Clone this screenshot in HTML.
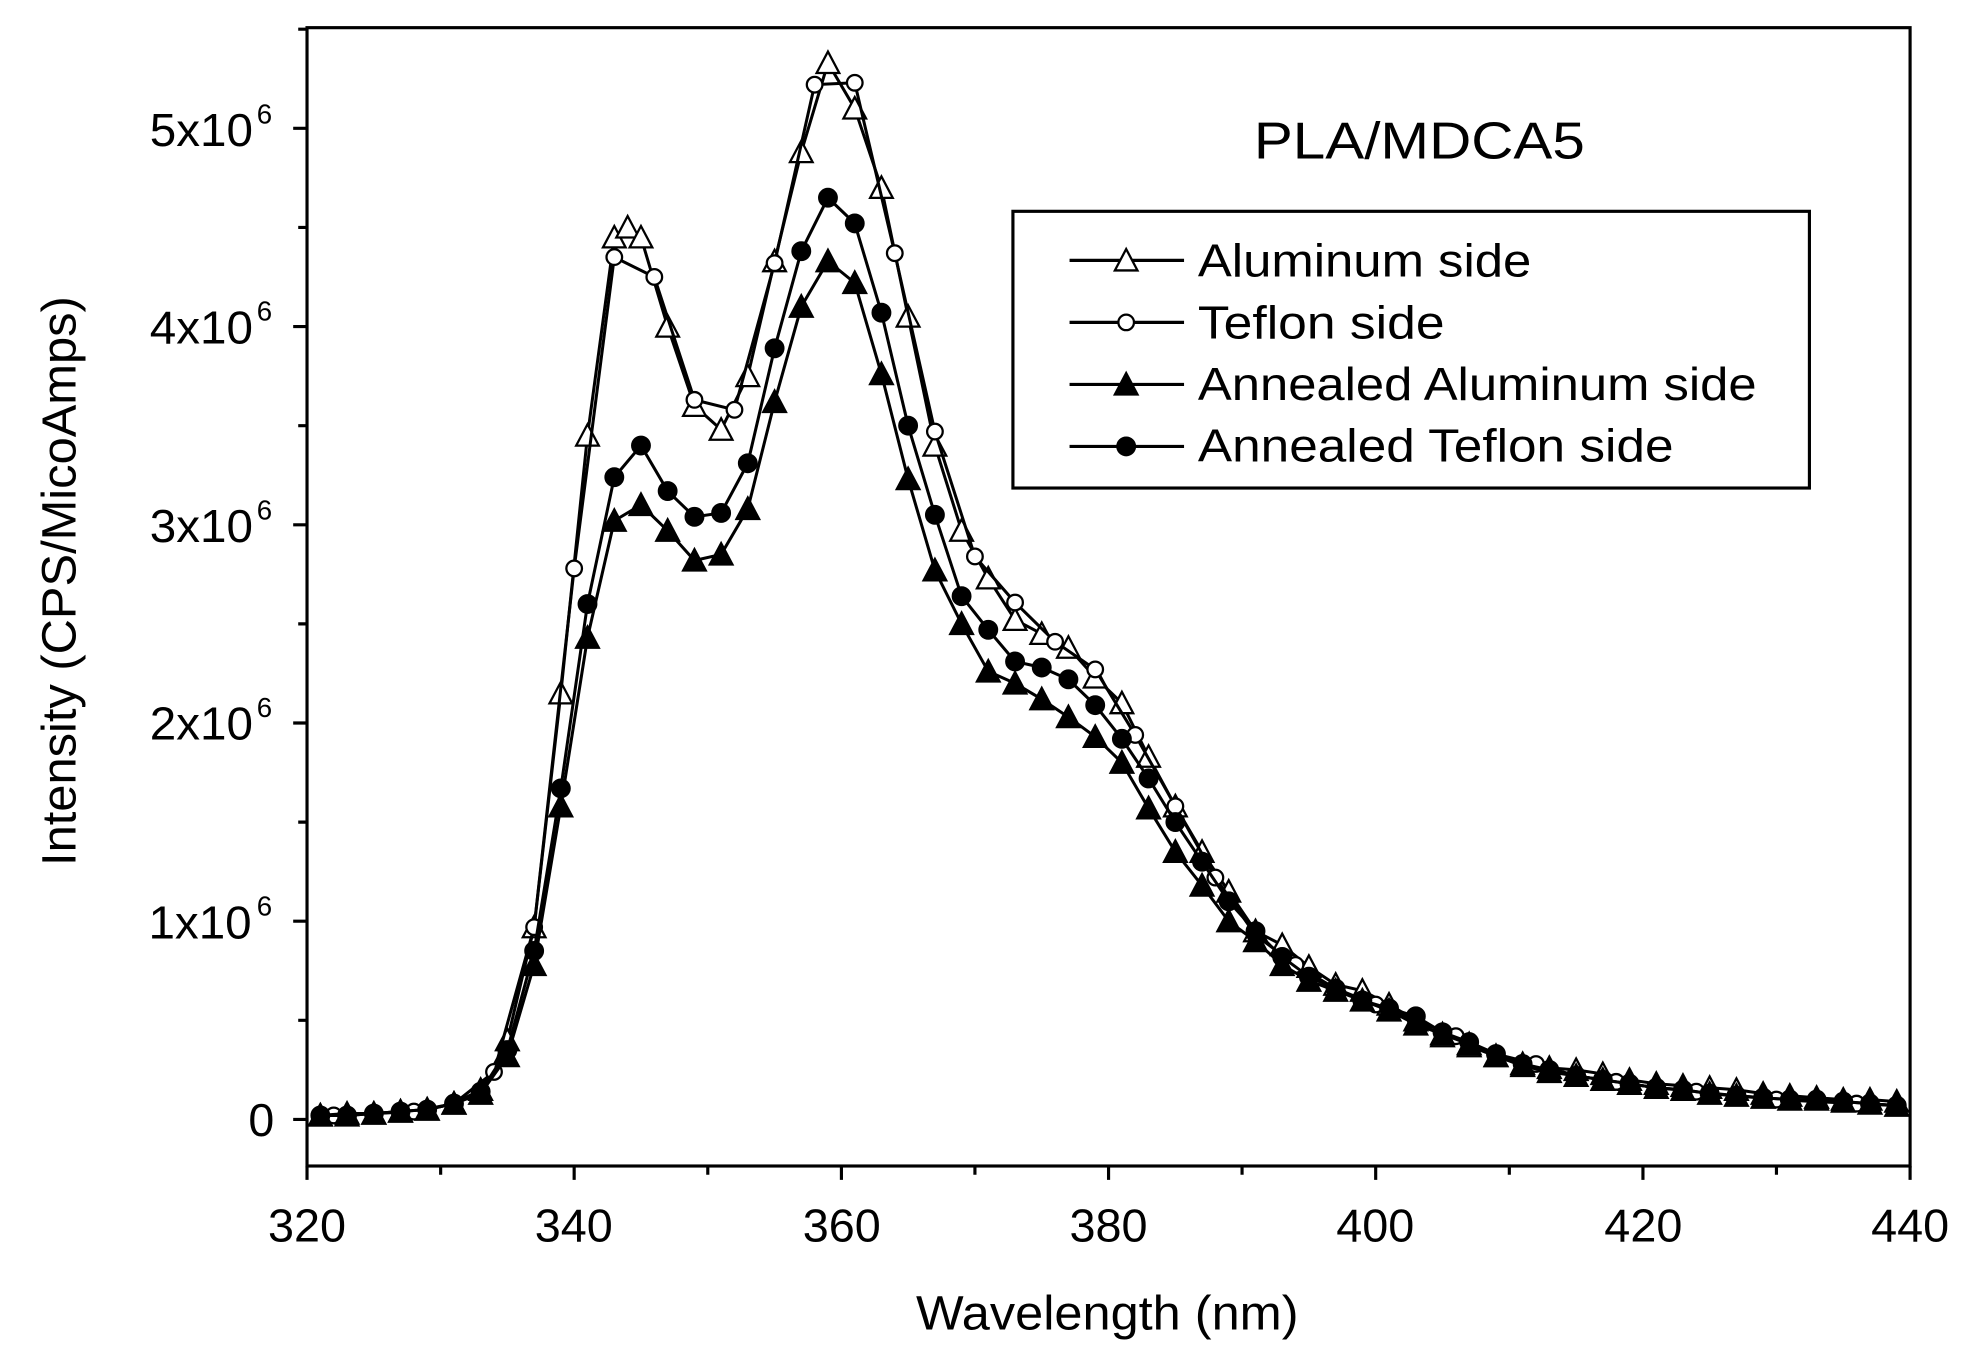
<!DOCTYPE html>
<html><head><meta charset="utf-8"><style>
html,body{margin:0;padding:0;background:#fff;width:1973px;height:1366px;overflow:hidden}
svg{display:block}
text{font-family:"Liberation Sans",Arial,sans-serif;fill:#000}
</style></head><body>
<svg width="1973" height="1366" viewBox="0 0 1568 1086" preserveAspectRatio="none" xmlns="http://www.w3.org/2000/svg">
<defs>
<marker id="ot" markerUnits="userSpaceOnUse" markerWidth="20" markerHeight="20" refX="10" refY="10" overflow="visible"><polygon points="1,18 19,18 10,1" fill="#fff" stroke="#000" stroke-width="1.8"/></marker>
<marker id="ft" markerUnits="userSpaceOnUse" markerWidth="20" markerHeight="20" refX="10" refY="10" overflow="visible"><polygon points="1,18 19,18 10,1" fill="#000" stroke="#000" stroke-width="1.8"/></marker>
<marker id="oc" markerUnits="userSpaceOnUse" markerWidth="20" markerHeight="20" refX="10" refY="10" overflow="visible"><circle cx="10" cy="10" r="6.2" fill="#fff" stroke="#000" stroke-width="1.8"/></marker>
<marker id="fc" markerUnits="userSpaceOnUse" markerWidth="20" markerHeight="20" refX="10" refY="10" overflow="visible"><circle cx="10" cy="10" r="7" fill="#000" stroke="#000" stroke-width="1.8"/></marker>
</defs>
<rect x="244" y="22" width="1274" height="905" fill="none" stroke="#000" stroke-width="2.5"/>
<g stroke="#000" stroke-width="2.5">
<path d="M244,927v11 M350.2,927v7 M456.3,927v11 M562.5,927v7 M668.7,927v11 M774.8,927v7 M881,927v11 M987.1,927v7 M1093.3,927v11 M1199.5,927v7 M1305.7,927v11 M1411.8,927v7 M1518,927v11"/>
<path d="M244,890h-11 M244,811.2h-7 M244,732.4h-11 M244,653.6h-7 M244,574.8h-11 M244,496h-7 M244,417.2h-11 M244,338.4h-7 M244,259.6h-11 M244,180.8h-7 M244,102h-11 M244,23.2h-7"/>
</g>
<g fill="none" stroke="#000" stroke-width="2.4" stroke-linejoin="round">
<path marker-start="url(#ot)" marker-mid="url(#ot)" marker-end="url(#ot)" d="M254.6,886.8 L275.8,886.8 297.1,885.3 318.3,883.7 339.5,882.1 360.8,877.4 382.0,866.4 403.2,827.0 424.5,737.1 445.7,551.2 466.9,346.3 488.2,188.7 498.8,180.8 509.4,188.7 530.6,259.6 551.9,322.6 573.1,341.6 594.3,299.0 615.6,207.6 636.8,120.9 658.0,50.0 679.3,86.2 700.5,149.3 721.7,251.7 743.0,354.2 764.2,421.9 785.4,459.8 806.7,492.8 827.9,503.9 849.1,514.9 870.4,538.6 891.6,559.0 912.8,601.6 934.1,641.0 955.3,677.2 976.5,708.8 997.8,740.3 1019.0,751.3 1040.2,768.6 1061.5,782.8 1082.7,787.6 1103.9,798.6 1125.2,811.2 1146.4,823.8 1167.6,831.7 1188.9,839.6 1210.1,845.9 1231.3,849.0 1252.6,850.6 1273.8,853.8 1295.0,858.5 1316.3,861.6 1337.5,863.2 1358.7,864.8 1380.0,866.4 1401.2,869.5 1422.4,871.1 1443.7,872.7 1464.9,874.2 1486.1,874.2 1507.4,875.8"/>
<path marker-start="url(#oc)" marker-mid="url(#oc)" marker-end="url(#oc)" d="M265.2,886.8 L297.1,885.3 328.9,883.7 360.8,877.4 392.6,852.2 424.5,737.1 456.3,451.9 488.2,204.4 520.0,220.2 551.9,317.9 583.7,325.8 615.6,209.2 647.4,67.3 679.3,65.8 711.1,201.3 743.0,343.1 774.8,442.4 806.7,479.0 838.5,510.2 870.4,532.2 902.2,584.3 934.1,641.0 965.9,697.7 997.8,743.4 1029.6,767.1 1061.5,786.0 1093.3,798.6 1125.2,811.2 1157.0,823.8 1188.9,838.0 1220.7,845.9 1252.6,855.3 1284.4,860.1 1316.3,864.8 1348.1,867.9 1380.0,871.1 1411.8,874.2 1443.7,875.8 1475.5,877.4 1507.4,879.0"/>
<path marker-start="url(#fc)" marker-mid="url(#fc)" marker-end="url(#fc)" d="M254.6,886.8 L275.8,886.8 297.1,885.3 318.3,883.7 339.5,882.1 360.8,877.4 382.0,867.9 403.2,834.8 424.5,756.0 445.7,626.8 466.9,480.2 488.2,379.4 509.4,354.2 530.6,390.4 551.9,410.9 573.1,407.8 594.3,368.3 615.6,276.9 636.8,199.7 658.0,157.2 679.3,177.6 700.5,248.6 721.7,338.4 743.0,409.3 764.2,474.0 785.4,500.7 806.7,525.9 827.9,530.7 849.1,540.1 870.4,560.6 891.6,587.4 912.8,618.9 934.1,653.6 955.3,685.1 976.5,716.6 997.8,740.3 1019.0,760.8 1040.2,776.5 1061.5,786.0 1082.7,795.4 1103.9,801.7 1125.2,808.0 1146.4,820.7 1167.6,828.5 1188.9,838.0 1210.1,845.9 1231.3,850.6 1252.6,855.3 1273.8,858.5 1295.0,861.6 1316.3,864.8 1337.5,866.4 1358.7,869.5 1380.0,871.1 1401.2,872.7 1422.4,874.2 1443.7,874.2 1464.9,875.8 1486.1,877.4 1507.4,879.0"/>
<path marker-start="url(#ft)" marker-mid="url(#ft)" marker-end="url(#ft)" d="M254.6,886.8 L275.8,885.3 297.1,885.3 318.3,883.7 339.5,882.1 360.8,877.4 382.0,869.5 403.2,839.6 424.5,767.1 445.7,641.0 466.9,507.0 488.2,414.0 509.4,401.4 530.6,421.9 551.9,445.6 573.1,440.8 594.3,404.6 615.6,319.5 636.8,243.8 658.0,207.6 679.3,224.9 700.5,297.4 721.7,380.9 743.0,453.4 764.2,496.0 785.4,533.8 806.7,543.3 827.9,555.9 849.1,570.1 870.4,585.8 891.6,606.3 912.8,642.6 934.1,677.2 955.3,704.0 976.5,732.4 997.8,748.2 1019.0,767.1 1040.2,779.7 1061.5,787.6 1082.7,795.4 1103.9,803.3 1125.2,814.4 1146.4,822.2 1167.6,830.1 1188.9,839.6 1210.1,847.4 1231.3,852.2 1252.6,855.3 1273.8,858.5 1295.0,861.6 1316.3,864.8 1337.5,866.4 1358.7,869.5 1380.0,871.1 1401.2,872.7 1422.4,874.2 1443.7,874.2 1464.9,875.8 1486.1,877.4 1507.4,879.0"/>
</g>
<g font-size="37">
<text x="244" y="987" text-anchor="middle" textLength="62" lengthAdjust="spacingAndGlyphs">320</text>
<text x="456" y="987" text-anchor="middle" textLength="62" lengthAdjust="spacingAndGlyphs">340</text>
<text x="669" y="987" text-anchor="middle" textLength="62" lengthAdjust="spacingAndGlyphs">360</text>
<text x="881" y="987" text-anchor="middle" textLength="62" lengthAdjust="spacingAndGlyphs">380</text>
<text x="1093" y="987" text-anchor="middle" textLength="62" lengthAdjust="spacingAndGlyphs">400</text>
<text x="1306" y="987" text-anchor="middle" textLength="62" lengthAdjust="spacingAndGlyphs">420</text>
<text x="1518" y="987" text-anchor="middle" textLength="62" lengthAdjust="spacingAndGlyphs">440</text>
<text x="218" y="903" text-anchor="end">0</text>
<text x="200" y="746" text-anchor="end" textLength="82" lengthAdjust="spacingAndGlyphs">1x10</text>
<text x="201" y="588" text-anchor="end" textLength="82" lengthAdjust="spacingAndGlyphs">2x10</text>
<text x="201" y="431" text-anchor="end" textLength="82" lengthAdjust="spacingAndGlyphs">3x10</text>
<text x="201" y="273" text-anchor="end" textLength="82" lengthAdjust="spacingAndGlyphs">4x10</text>
<text x="201" y="116" text-anchor="end" textLength="82" lengthAdjust="spacingAndGlyphs">5x10</text>
<g font-size="22"><text x="204" y="728">6</text><text x="204" y="570">6</text><text x="204" y="413">6</text><text x="204" y="255">6</text><text x="204" y="98">6</text></g>
<text x="880" y="1057" text-anchor="middle" font-size="38" textLength="304" lengthAdjust="spacingAndGlyphs">Wavelength (nm)</text>
<text transform="translate(60,462) rotate(-90)" text-anchor="middle" font-size="38" textLength="453" lengthAdjust="spacingAndGlyphs">Intensity (CPS/MicoAmps)</text>
<text x="1128" y="126" text-anchor="middle" font-size="41" textLength="263" lengthAdjust="spacingAndGlyphs">PLA/MDCA5</text>
</g>
<rect x="805" y="168" width="633" height="220" fill="#fff" stroke="#000" stroke-width="2.5"/>
<g stroke="#000" stroke-width="2.5" fill="none">
<path marker-mid="url(#ot)" d="M850,207 L895,207 941,207"/>
<path marker-mid="url(#oc)" d="M850,256.3 L895,256.3 941,256.3"/>
<path marker-mid="url(#ft)" d="M850,305.6 L895,305.6 941,305.6"/>
<path marker-mid="url(#fc)" d="M850,354.9 L895,354.9 941,354.9"/>
</g>
<g font-size="37">
<text x="952" y="220" textLength="265" lengthAdjust="spacingAndGlyphs">Aluminum side</text>
<text x="952" y="269" textLength="196" lengthAdjust="spacingAndGlyphs">Teflon side</text>
<text x="952" y="318" textLength="444" lengthAdjust="spacingAndGlyphs">Annealed Aluminum side</text>
<text x="952" y="367" textLength="378" lengthAdjust="spacingAndGlyphs">Annealed Teflon side</text>
</g>
</svg>
</body></html>
